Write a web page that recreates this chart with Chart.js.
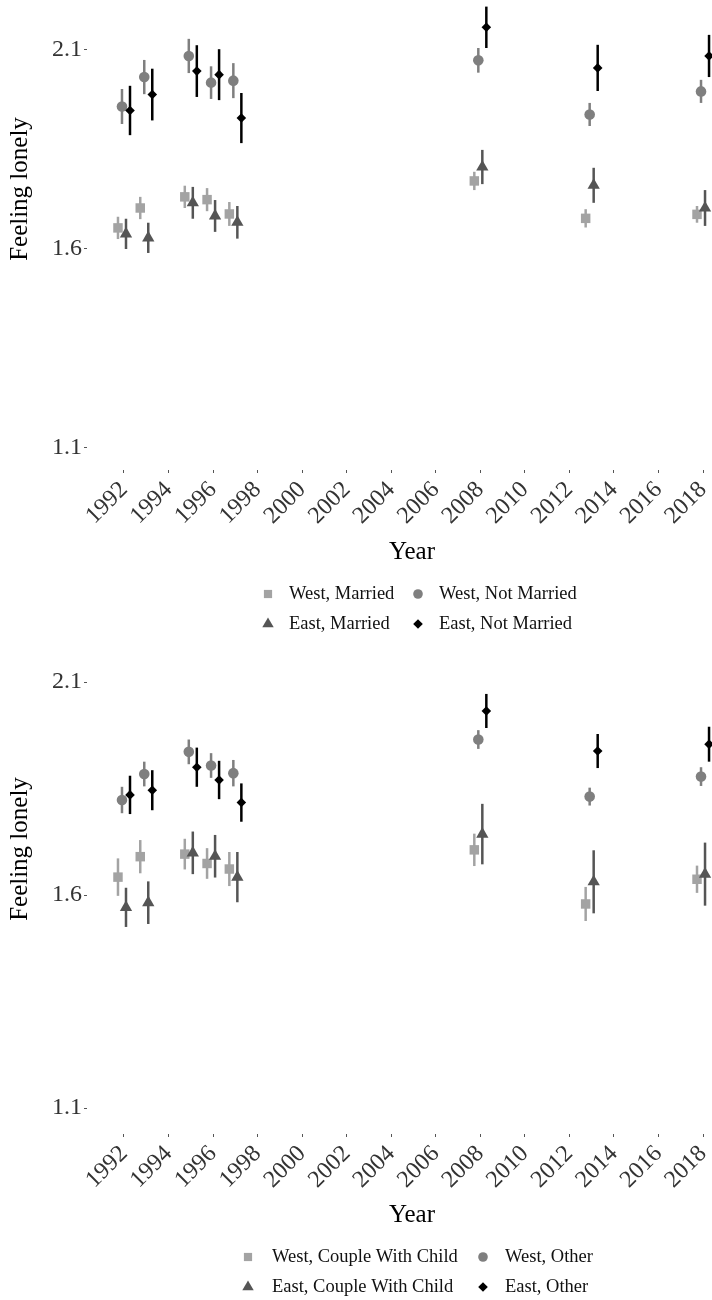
<!DOCTYPE html>
<html><head><meta charset="utf-8">
<script src="https://cdn.jsdelivr.net/npm/chart.js@4.4.0/dist/chart.umd.min.js"></script>
<style>html,body{margin:0;padding:0;background:#fff;}canvas{display:block;}</style>
</head><body>
<canvas id="c1" width="712" height="640"></canvas>
<canvas id="c2" width="712" height="660"></canvas>
<script>
// ---------- data ----------
const years = [1992, 1993, 1995, 1996, 1997, 2008, 2013, 2018];
const xTicks = [1992, 1994, 1996, 1998, 2000, 2002, 2004, 2006, 2008, 2010, 2012, 2014, 2016, 2018];
const yTicks = [1.1, 1.6, 2.1];

// Panel 1: by marital status
const labels1 = ["West, Married", "West, Not Married", "East, Married", "East, Not Married"];
const westMarried      = [1.653, 1.703, 1.731, 1.724, 1.688, 1.771, 1.677, 1.687];
const westMarriedCI    = [0.028, 0.028, 0.028, 0.029, 0.030, 0.023, 0.023, 0.021];
const westNotMarried   = [1.958, 2.032, 2.085, 2.018, 2.023, 2.074, 1.938, 1.996];
const westNotMarriedCI = [0.044, 0.043, 0.043, 0.041, 0.044, 0.031, 0.029, 0.029];
const eastMarried      = [1.638, 1.628, 1.716, 1.683, 1.667, 1.806, 1.760, 1.703];
const eastMarriedCI    = [0.038, 0.038, 0.040, 0.040, 0.041, 0.043, 0.044, 0.045];
const eastNotMarried   = [1.948, 1.988, 2.047, 2.038, 1.929, 2.157, 2.055, 2.085];
const eastNotMarriedCI = [0.062, 0.065, 0.065, 0.064, 0.063, 0.052, 0.058, 0.053];

// Panel 2: by household type
const labels2 = ["West, Couple With Child", "West, Other", "East, Couple With Child", "East, Other"];
const westCouple   = [1.642, 1.690, 1.696, 1.674, 1.661, 1.706, 1.579, 1.637];
const westCoupleCI = [0.044, 0.039, 0.036, 0.036, 0.040, 0.038, 0.040, 0.032];
const westOther    = [1.823, 1.884, 1.936, 1.904, 1.886, 1.965, 1.831, 1.878];
const westOtherCI  = [0.031, 0.029, 0.029, 0.029, 0.031, 0.022, 0.021, 0.022];
const eastCouple   = [1.571, 1.582, 1.699, 1.691, 1.642, 1.743, 1.631, 1.649];
const eastCoupleCI = [0.046, 0.050, 0.050, 0.050, 0.059, 0.071, 0.074, 0.074];
const eastOther    = [1.835, 1.846, 1.900, 1.870, 1.817, 2.032, 1.938, 1.954];
const eastOtherCI  = [0.045, 0.047, 0.046, 0.045, 0.045, 0.040, 0.040, 0.041];

// ---------- styling ----------
const FONT = '"Liberation Serif", "Times New Roman", serif';
const DODGE = [-0.27, -0.09, 0.09, 0.27];
const STYLES = [
  {shape: 'rect',     r: 6.7, lr: 5.8, color: '#a3a3a3'},
  {shape: 'circle',   r: 5.3, lr: 4.8, color: '#7f7f7f'},
  {shape: 'triangle', r: 7.1, lr: 6.6, color: '#555555'},
  {shape: 'rectRot',  r: 4.8, lr: 4.8, color: '#000000'}
];

const errBars = {
  id: 'errBars',
  beforeDatasetDraw(chart, args) {
    const ds = chart.data.datasets[args.index];
    const meta = args.meta;
    const ys = chart.scales.y;
    const ctx = chart.ctx;
    ctx.save();
    ctx.strokeStyle = ds.backgroundColor;
    ctx.lineWidth = 2.5;
    ctx.lineCap = 'butt';
    meta.data.forEach((pt, i) => {
      const v = ds.data[i].y, e = ds.errors[i];
      ctx.beginPath();
      ctx.moveTo(pt.x, ys.getPixelForValue(v - e));
      ctx.lineTo(pt.x, ys.getPixelForValue(v + e));
      ctx.stroke();
    });
    ctx.restore();
  }
};

const annot = {
  id: 'annot',
  afterDraw(chart, args, o) {
    const ctx = chart.ctx;
    ctx.save();
    ctx.fillStyle = '#000';
    ctx.font = '25px ' + FONT;
    ctx.textAlign = 'center';
    ctx.textBaseline = 'alphabetic';
    ctx.fillText(o.xTitle, o.xTitleX, o.xTitleY);
    ctx.save();
    ctx.translate(o.yTitleX, o.yTitleY);
    ctx.rotate(-Math.PI / 2);
    ctx.fillText(o.yTitle, 0, 0);
    ctx.restore();
    // legend (2 x 2, by row)
    ctx.font = '18.5px ' + FONT;
    ctx.textAlign = 'left';
    ctx.textBaseline = 'middle';
    chart.data.datasets.forEach((ds, k) => {
      const col = k % 2, row = Math.floor(k / 2);
      const st = STYLES[k];
      const sx = o.legSymX[col], tx = o.legTextX[col], y = o.legRowY[row];
      ctx.fillStyle = st.color;
      ctx.strokeStyle = st.color;
      Chart.helpers.drawPoint(ctx, {pointStyle: st.shape, radius: st.lr, rotation: 0, borderWidth: 0}, sx, y);
      ctx.fillStyle = '#111';
      ctx.fillText(ds.label, tx, y);
    });
    ctx.restore();
  }
};

function makePanel(id, labels, means, cis, o) {
  const datasets = labels.map((lab, k) => ({
    label: lab,
    data: years.map((yr, i) => ({x: yr + DODGE[k], y: means[k][i]})),
    errors: cis[k],
    pointStyle: STYLES[k].shape,
    pointRadius: STYLES[k].r,
    pointHoverRadius: STYLES[k].r,
    backgroundColor: STYLES[k].color,
    borderColor: STYLES[k].color,
    pointBorderWidth: 0,
    showLine: false,
    order: 3 - k,
    clip: false
  }));
  const tickFont = {family: FONT, size: 24};
  return new Chart(document.getElementById(id), {
    type: 'scatter',
    data: {datasets},
    plugins: [errBars, annot],
    options: {
      responsive: false,
      animation: false,
      events: [],
      layout: {padding: 0, autoPadding: false},
      scales: {
        x: {
          type: 'linear', min: 1990.339, max: 2018.403,
          afterBuildTicks: s => { s.ticks = xTicks.map(v => ({value: v})); },
          afterFit: s => { s.height = o.xAxisH; s.paddingLeft = 0; s.paddingRight = 0; },
          ticks: {autoSkip: false, minRotation: 45, maxRotation: 45, padding: 3, color: '#333',
                  font: tickFont, callback: v => String(v)},
          grid: {drawOnChartArea: false, drawTicks: true, tickLength: 3, color: '#555', lineWidth: 1},
          border: {display: false}
        },
        y: {
          type: 'linear', min: o.yMin, max: o.yMax,
          afterBuildTicks: s => { s.ticks = yTicks.map(v => ({value: v})); },
          afterFit: s => { s.width = 87; s.paddingTop = 0; s.paddingBottom = 0; },
          ticks: {padding: 2, color: '#333', font: tickFont, callback: v => Number(v).toFixed(1)},
          grid: {drawOnChartArea: false, drawTicks: true, tickLength: 3, color: '#555', lineWidth: 1},
          border: {display: false}
        }
      },
      plugins: {
        legend: {display: false},
        tooltip: {enabled: false},
        annot: o.annot
      }
    }
  });
}

makePanel('c1', labels1,
  [westMarried, westNotMarried, eastMarried, eastNotMarried],
  [westMarriedCI, westNotMarriedCI, eastMarriedCI, eastNotMarriedCI],
  {xAxisH: 170, yMin: 1.0447, yMax: 2.2256,
   annot: {xTitle: 'Year', xTitleX: 412, xTitleY: 559, yTitle: 'Feeling lonely', yTitleX: 27, yTitleY: 189,
           legSymX: [268, 418], legTextX: [289, 439], legRowY: [594, 624]}});

makePanel('c2', labels2,
  [westCouple, westOther, eastCouple, eastOther],
  [westCoupleCI, westOtherCI, eastCoupleCI, eastOtherCI],
  {xAxisH: 166, yMin: 1.039, yMax: 2.1986,
   annot: {xTitle: 'Year', xTitleX: 412, xTitleY: 582, yTitle: 'Feeling lonely', yTitleX: 27, yTitleY: 209,
           legSymX: [248, 483], legTextX: [272, 505], legRowY: [617, 647]}});
</script>
</body></html>
